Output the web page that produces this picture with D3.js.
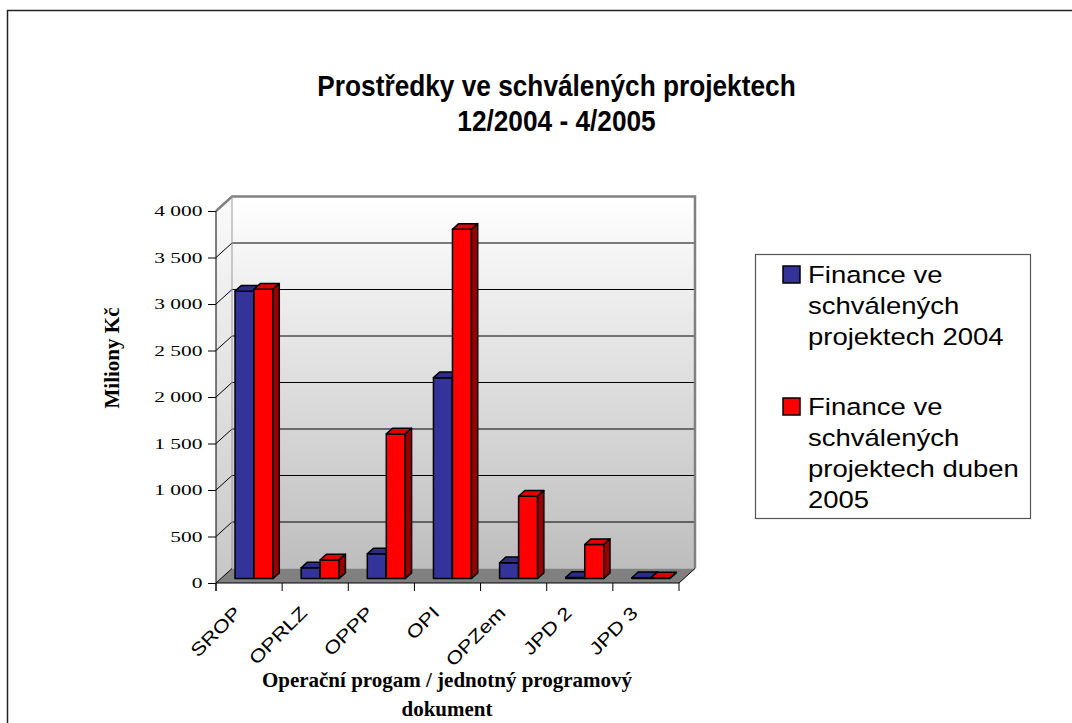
<!DOCTYPE html>
<html>
<head>
<meta charset="utf-8">
<script src="https://d3js.org/d3.v7.min.js"></script>
<style>
    body { margin: 0; background: #ffffff; }
    svg { display: block; }
</style>
</head>
<body>
<svg id="chart" width="1072" height="723"></svg>
<script>
// data
var categories = ["SROP", "OPRLZ", "OPPP", "OPI", "OPZem", "JPD 2", "JPD 3"];
var seriesNames = ["Finance ve schválených projektech 2004", "Finance ve schválených projektech duben 2005"];
var values2004 = [3090, 115, 265, 2160, 170, 12, 8];
var valuesDuben2005 = [3110, 200, 1555, 3755, 885, 365, 6];
var seriesColors = ["#333399", "#ff0000"];
var yTicks = [0, 500, 1000, 1500, 2000, 2500, 3000, 3500, 4000];
var titleLines = ["Prostředky ve schválených projektech", "12/2004 - 4/2005"];
var xTitleLines = ["Operační progam / jednotný programový", "dokument"];
var yTitle = "Miliony Kč";
// legend text wrapped as in the picture
var legendLines = [["Finance ve", "schválených", "projektech 2004"],
    ["Finance ve", "schválených", "projektech duben", "2005"]];

var svg = d3.select('#chart');
var sans = "'Liberation Sans', Arial, sans-serif";
var serif = "'Liberation Serif', 'Times New Roman', serif";

// front plane of the plot and depth of the 3d box
var plot = {left: 216, right: 679, top: 211, bottom: 583};
var depth = {x: 16, y: -14.5};
var barFront = 0.31, barBack = 0.70;
// fonts in the picture are not drawn at their natural width
var tickStretch = 1.43, catStretch = 1.22, legendStretch = 1.17, titleStretch = 0.875;

var x = d3.scaleBand().domain(categories).range([plot.left, plot.right]);
var groupWidth = x.bandwidth() * 0.575;
var xs = d3.scaleBand().domain(seriesNames)
        .range([(x.bandwidth() - groupWidth) / 2, (x.bandwidth() + groupWidth) / 2]);
var y = d3.scaleLinear().domain([0, 4000]).range([plot.bottom, plot.top]);

var fmt = d3.formatLocale({decimal: ",", thousands: "\u00a0", grouping: [3], currency: ["", " Kč"]}).format(",");

/**
 * project a front point to depth f (0 = front, 1 = back wall)
 */
function proj(px, py, f) {
    return [px + f * depth.x, py + f * depth.y];
}

function poly(points) {
    return points.map(function (p) { return p[0] + "," + p[1]; }).join(" ");
}

// outer frame
svg.append("rect")
        .attr("x", 7.5).attr("y", 10.5)
        .attr("width", 1100).attr("height", 760)
        .attr("fill", "none")
        .attr("stroke", "#222").attr("stroke-width", 1.5);

var defs = svg.append("defs");
var g1 = defs.append("linearGradient").attr("id", "wallGrad")
        .attr("x1", 0).attr("y1", 0).attr("x2", 0).attr("y2", 1);
g1.append("stop").attr("offset", "0%").attr("stop-color", "#ffffff");
g1.append("stop").attr("offset", "100%").attr("stop-color", "#bdbdbd");
var g2 = defs.append("linearGradient").attr("id", "sideGrad")
        .attr("x1", 0).attr("y1", 0).attr("x2", 0).attr("y2", 1);
g2.append("stop").attr("offset", "0%").attr("stop-color", "#fbfbfb");
g2.append("stop").attr("offset", "100%").attr("stop-color", "#c6c6c6");

// walls and floor
var y0 = y(0), yMax = y(4000);
svg.append("polygon")
        .attr("points", poly([proj(plot.left, yMax, 1), proj(plot.right, yMax, 1), proj(plot.right, y0, 1), proj(plot.left, y0, 1)]))
        .attr("fill", "url(#wallGrad)");
svg.append("polygon")
        .attr("points", poly([[plot.left, yMax], proj(plot.left, yMax, 1), proj(plot.left, y0, 1), [plot.left, y0]]))
        .attr("fill", "url(#sideGrad)");
svg.append("polygon")
        .attr("points", poly([[plot.left, y0], [plot.right, y0], proj(plot.right, y0, 1), proj(plot.left, y0, 1)]))
        .attr("fill", "#808080");

// gridlines on back wall + left wall
yTicks.filter(function (v) { return v > 0 && v < 4000; }).forEach(function (v) {
    var a = proj(plot.left, y(v), 1), b = proj(plot.right, y(v), 1);
    svg.append("line").attr("x1", a[0]).attr("y1", a[1]).attr("x2", b[0]).attr("y2", b[1])
            .attr("stroke", "#000").attr("stroke-width", 1);
    svg.append("line").attr("x1", plot.left).attr("y1", y(v)).attr("x2", a[0]).attr("y2", a[1])
            .attr("stroke", "#000").attr("stroke-width", 1);
});

// wall edges
var tl = proj(plot.left, yMax, 1), tr = proj(plot.right, yMax, 1), br = proj(plot.right, y0, 1), bl = proj(plot.left, y0, 1);
svg.append("polyline")
        .attr("points", poly([[plot.left, yMax], tl, tr, br]))
        .attr("fill", "none").attr("stroke", "#808080").attr("stroke-width", 2.5);
svg.append("line").attr("x1", tl[0]).attr("y1", tl[1]).attr("x2", bl[0]).attr("y2", bl[1])
        .attr("stroke", "#9a9a9a").attr("stroke-width", 1);
svg.append("line").attr("x1", plot.right).attr("y1", y0).attr("x2", br[0]).attr("y2", br[1])
        .attr("stroke", "#000").attr("stroke-width", 1);
svg.append("line").attr("x1", plot.left).attr("y1", y0).attr("x2", bl[0]).attr("y2", bl[1])
        .attr("stroke", "#000").attr("stroke-width", 1);

// bars
var series = [values2004, valuesDuben2005];
categories.forEach(function (cat, i) {
    series.forEach(function (vals, s) {
        var v = vals[i];
        var x0 = x(cat) + xs(seriesNames[s]), x1 = x0 + xs.bandwidth();
        var col = d3.color(seriesColors[s]);
        var g = svg.append("g").attr("stroke", "#000").attr("stroke-width", 1.5).attr("stroke-linejoin", "round");
        g.append("polygon")
                .attr("points", poly([proj(x0, y(v), barFront), proj(x1, y(v), barFront), proj(x1, y(0), barFront), proj(x0, y(0), barFront)]))
                .attr("fill", col.formatHex());
        g.append("polygon")
                .attr("points", poly([proj(x0, y(v), barFront), proj(x1, y(v), barFront), proj(x1, y(v), barBack), proj(x0, y(v), barBack)]))
                .attr("fill", col.darker(0.35).formatHex());
        g.append("polygon")
                .attr("points", poly([proj(x1, y(v), barFront), proj(x1, y(v), barBack), proj(x1, y(0), barBack), proj(x1, y(0), barFront)]))
                .attr("fill", col.darker(1.4).formatHex());
    });
});

// y axis
svg.append("g")
        .attr("transform", "translate(" + plot.left + ",0)")
        .call(d3.axisLeft(y).tickValues(yTicks).tickFormat(fmt).tickSize(8).tickSizeOuter(0).tickPadding(3))
        .call(function (g) {
            g.select(".domain").remove();
            g.selectAll("text").attr("font-family", serif)
                    .attr("font-size", 15).attr("fill", "#000")
                    .attr("x", -13.5 / tickStretch)
                    .attr("transform", "scale(" + tickStretch + ",1)");
            g.selectAll("line").attr("stroke", "#000");
        });
svg.append("line").attr("x1", plot.left).attr("x2", plot.left).attr("y1", yMax).attr("y2", y0 + 8)
        .attr("stroke", "#000");

// x axis: ticks between categories
var xAxis = svg.append("g");
xAxis.append("line").attr("x1", plot.left).attr("x2", plot.right).attr("y1", y0).attr("y2", y0)
        .attr("stroke", "#000");
categories.concat(["end"]).forEach(function (cat, i) {
    var tx = i < categories.length ? x(cat) : plot.right;
    xAxis.append("line").attr("x1", tx).attr("x2", tx).attr("y1", y0).attr("y2", y0 + 8)
            .attr("stroke", "#000");
});
xAxis.selectAll("text.cat").data(categories).enter().append("text")
        .attr("class", "cat")
        .attr("transform", function (d) {
            return "translate(" + (x(d) + x.bandwidth() / 2 - 7) + "," + (y0 + 31) + ") rotate(-45) scale(" + catStretch + ",1)";
        })
        .attr("text-anchor", "end")
        .attr("font-family", sans)
        .attr("font-size", 18)
        .text(function (d) { return d; });

// titles
svg.append("text")
        .attr("transform", "translate(556.5,0) scale(" + titleStretch + ",1)")
        .attr("y", 96.5)
        .attr("text-anchor", "middle")
        .attr("font-family", sans)
        .attr("font-weight", "bold").attr("font-size", 30)
        .selectAll("tspan").data(titleLines).enter().append("tspan")
        .attr("x", 0).attr("dy", function (d, i) { return i == 0 ? 0 : 35; })
        .text(function (d) { return d; });

svg.append("text")
        .attr("x", 447).attr("y", 686.5)
        .attr("text-anchor", "middle")
        .attr("font-family", serif)
        .attr("font-weight", "bold").attr("font-size", 21)
        .selectAll("tspan").data(xTitleLines).enter().append("tspan")
        .attr("x", 447).attr("dy", function (d, i) { return i == 0 ? 0 : 29; })
        .text(function (d) { return d; });

svg.append("text")
        .attr("transform", "translate(119,358) rotate(-90)")
        .attr("text-anchor", "middle")
        .attr("font-family", serif)
        .attr("font-weight", "bold").attr("font-size", 21)
        .text(yTitle);

// legend
var legend = svg.append("g");
legend.append("rect")
        .attr("x", 755.5).attr("y", 254.5).attr("width", 275).attr("height", 264)
        .attr("fill", "#fff").attr("stroke", "#555").attr("stroke-width", 1.2);
var entryTop = [266, 398];
legendLines.forEach(function (lines, s) {
    legend.append("rect")
            .attr("x", 783).attr("y", entryTop[s]).attr("width", 17).attr("height", 17)
            .attr("fill", seriesColors[s]).attr("stroke", "#000").attr("stroke-width", 1.5);
    legend.append("text")
            .attr("transform", "translate(808,0) scale(" + legendStretch + ",1)")
            .attr("font-family", sans)
            .attr("font-size", 23.5)
            .selectAll("tspan").data(lines).enter().append("tspan")
            .attr("x", 0).attr("y", function (d, i) { return entryTop[s] + 17 + i * 31; })
            .text(function (d) { return d; });
});
</script>
</body>
</html>
